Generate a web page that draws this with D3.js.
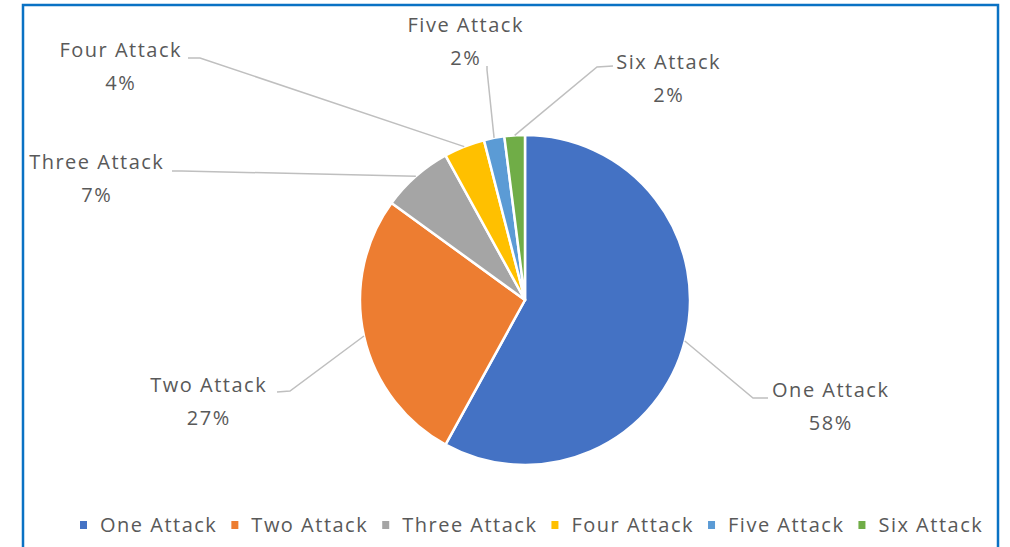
<!DOCTYPE html>
<html>
<head>
<meta charset="utf-8">
<script src="https://cdn.jsdelivr.net/npm/d3@7/dist/d3.min.js"></script>
<style>
  html, body { margin: 0; padding: 0; background: #ffffff; }
  svg { display: block; }
</style>
</head>
<body>
<svg id="chart" width="1010" height="547"></svg>
<script>
// ---- data ----
const categories = ["One Attack", "Two Attack", "Three Attack", "Four Attack", "Five Attack", "Six Attack"];
const values = [58, 27, 7, 4, 2, 2];
const percentLabels = ["58%", "27%", "7%", "4%", "2%", "2%"];
const colors = ["#4472C4", "#ED7D31", "#A5A5A5", "#FFC000", "#5B9BD5", "#70AD47"];

// ---- layout (label placement, not data) ----
const labelLayout = [
  { x: 830, y: 397, ax: 768, ay: 398, ex: 753, ey: 398 },
  { x: 208, y: 392, ax: 277, ay: 392, ex: 290, ey: 391 },
  { x: 96,  y: 169, ax: 172, ay: 171, ex: 182, ey: 171 },
  { x: 120, y: 57,  ax: 188, ay: 58,  ex: 200, ey: 58 },
  { x: 465, y: 32,  ax: 487, ay: 66,  ex: 487, ey: 70 },
  { x: 668, y: 69,  ax: 613, ay: 66,  ex: 597, ey: 67 }
];

const W = 1010, H = 547;
const cx = 525, cy = 300, R = 165;
const fontFamily = "'Open Sans', 'DejaVu Sans', sans-serif";
const textColor = "#595959";
const fontSize = 20;
const letterSpacing = 1.5;

const svg = d3.select("#chart");

// frame
svg.append("rect")
  .attr("x", 23).attr("y", 5)
  .attr("width", 975).attr("height", 560)
  .attr("fill", "none")
  .attr("stroke", "#0A72C4")
  .attr("stroke-width", 2.5);

const pie = d3.pie().value(d => d).sort(null);
const arcs = pie(values);
const arc = d3.arc().innerRadius(0).outerRadius(R);
const edgeArc = d3.arc().innerRadius(R).outerRadius(R);

const g = svg.append("g").attr("transform", `translate(${cx},${cy})`);

g.selectAll("path.slice")
  .data(arcs)
  .enter().append("path")
  .attr("class", "slice")
  .attr("d", arc)
  .attr("fill", (d, i) => colors[i])
  .attr("stroke", "#ffffff")
  .attr("stroke-width", 2.5)
  .attr("stroke-linejoin", "round");

// leader lines
svg.selectAll("polyline.leader")
  .data(arcs)
  .enter().append("polyline")
  .attr("class", "leader")
  .attr("points", (d, i) => {
    const L = labelLayout[i];
    const c = edgeArc.centroid(d);
    return [[L.ax, L.ay], [L.ex, L.ey], [cx + c[0], cy + c[1]]].map(p => p.join(",")).join(" ");
  })
  .attr("fill", "none")
  .attr("stroke", "#BFBFBF")
  .attr("stroke-width", 1.5);

// labels
const labels = svg.selectAll("g.label")
  .data(arcs)
  .enter().append("g")
  .attr("class", "label");

labels.append("text")
  .attr("x", (d, i) => labelLayout[i].x + letterSpacing / 2)
  .attr("y", (d, i) => labelLayout[i].y)
  .attr("text-anchor", "middle")
  .attr("font-family", fontFamily)
  .attr("font-size", fontSize)
  .attr("letter-spacing", letterSpacing)
  .attr("fill", textColor)
  .text((d, i) => categories[i]);

labels.append("text")
  .attr("x", (d, i) => labelLayout[i].x + letterSpacing / 2)
  .attr("y", (d, i) => labelLayout[i].y + 33)
  .attr("text-anchor", "middle")
  .attr("font-family", fontFamily)
  .attr("font-size", fontSize)
  .attr("letter-spacing", letterSpacing)
  .attr("fill", textColor)
  .text((d, i) => percentLabels[i]);

// legend
const legend = svg.append("g").attr("class", "legend");
let lx = 80;
const ly = 525;
categories.forEach((c, i) => {
  const item = legend.append("g");
  item.append("rect")
    .attr("x", lx).attr("y", ly - 4)
    .attr("width", 7).attr("height", 8)
    .attr("fill", colors[i]);
  const t = item.append("text")
    .attr("x", lx + 20).attr("y", ly + 7)
    .attr("font-family", fontFamily)
    .attr("font-size", fontSize)
    .attr("letter-spacing", letterSpacing)
    .attr("fill", textColor)
    .text(c);
  const w = t.node().getComputedTextLength();
  lx += 20 + w + 14;
});
</script>
</body>
</html>
